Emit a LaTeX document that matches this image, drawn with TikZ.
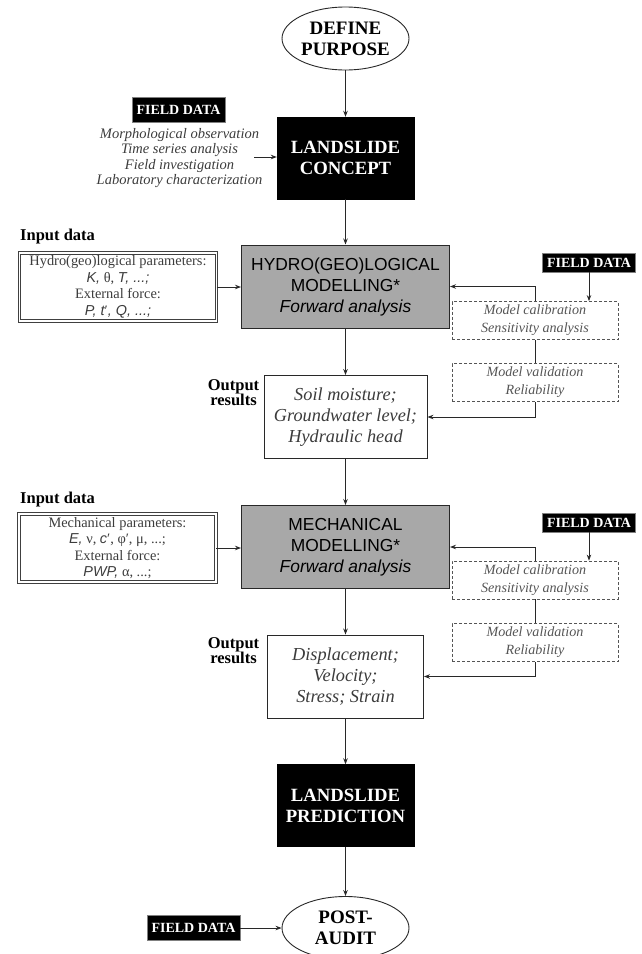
\documentclass[tikz,border=0pt]{standalone}
\usepackage{fontspec}
\setmainfont{Liberation Serif}
\setsansfont{Liberation Sans}
\usetikzlibrary{shapes.geometric,arrows.meta}
\definecolor{boxgray}{RGB}{168,168,168}
\definecolor{linecol}{RGB}{40,40,40}
\definecolor{txtgray}{RGB}{60,60,60}
\definecolor{dashgray}{RGB}{85,85,85}
\newcommand{\sfit}[1]{{\sffamily\itshape #1}}
\begin{document}
\begin{tikzpicture}[x=1pt,y=-1pt,
  arr/.style={draw=linecol, line width=0.9pt, -{Stealth[length=6pt,width=4.5pt]}},
  conn/.style={draw=linecol, line width=0.9pt},
  blackbox/.style={rectangle, fill=black, draw=black, text=white, font=\bfseries\fontsize{18.7}{21}\selectfont, align=center, minimum width=137pt, minimum height=82pt, inner sep=0pt},
  oval/.style={ellipse, draw=linecol, line width=0.9pt, fill=white, font=\bfseries\fontsize{19}{21}\selectfont, align=center, minimum width=127pt, minimum height=63pt, inner sep=0pt},
  fieldbox/.style={rectangle, fill=black, draw=gray, line width=0.5pt, text=white, font=\bfseries\fontsize{14}{16}\selectfont, inner sep=0pt, minimum width=93pt},
  modelbox/.style={rectangle, fill=boxgray, draw=linecol, line width=1pt, font=\sffamily\fontsize{17.4}{21}\selectfont, align=center, minimum width=208pt, minimum height=83pt, inner sep=0pt},
  outbox/.style={rectangle, draw=linecol, line width=0.9pt, fill=white, text=txtgray, font=\itshape\fontsize{18.3}{21}\selectfont, align=center, minimum height=83pt, inner sep=0pt},
  inbox/.style={rectangle, draw=gray!50!black, double=white, double distance=1.6pt, line width=0.8pt, font=\fontsize{14.4}{16.5}\selectfont, text=txtgray, align=center, minimum width=197pt, minimum height=68pt, inner sep=0pt},
  dbox/.style={rectangle, draw=dashgray, dash pattern=on 3pt off 2pt, line width=0.8pt, font=\itshape\fontsize{14.1}{18}\selectfont, text=dashgray, align=center, minimum width=166pt, minimum height=38pt, inner sep=0pt},
  lbl/.style={font=\bfseries\fontsize{16.5}{15}\selectfont, align=center, inner sep=0pt},
  listtxt/.style={font=\itshape\fontsize{14.5}{15.3}\selectfont, text=txtgray, align=center, inner sep=0pt}
]
\useasboundingbox (0,0) rectangle (642,954);

% top part
\node[oval] (purpose) at (345.5,38.5) {DEFINE\\PURPOSE};
\node[blackbox] (concept) at (345.5,158) {LANDSLIDE\\CONCEPT};
\node[fieldbox, minimum height=25pt] (fd0) at (178.5,109.5) {FIELD DATA};
\node[listtxt] (obs) at (179.5,158) {Morphological observation\\Time series analysis\\Field investigation\\Laboratory characterization};
\coordinate (obsend) at (254,157);
\draw[arr] (obsend) -- (obsend -| concept.west);
\draw[arr] (purpose.south) -- (concept.north);

% hydro block
\node[modelbox] (hydro) at (345.5,286.5) {HYDRO(GEO)LOGICAL\\MODELLING*\\\textit{Forward analysis}};
\draw[arr] (concept.south) -- (hydro.north);
\node[lbl, anchor=west] (in1lbl) at (20,237) {Input data};
\node[inbox] (in1) at (118,287) {Hydro(geo)logical parameters:\\\sfit{K,} θ, \sfit{T, ...;}\\External force:\\\sfit{P, t}′\sfit{, Q, ...;}};
\draw[arr] (in1.east) -- (in1.east -| hydro.west);
\node[fieldbox, minimum height=19pt] (fd1) at (589,262.5) {FIELD DATA};
\node[dbox] (cal1) at (535,320.5) {Model calibration\\Sensitivity analysis};
\node[dbox] (val1) at (535,382.5) {Model validation\\Reliability};
\draw[arr] (fd1.south) -- (fd1.south |- cal1.north);
\draw[arr] (cal1.north) |- (hydro.east);
\draw[conn] (cal1.south) -- (val1.north);
\node[outbox, minimum width=163pt] (out1) at (345.5,417) {Soil moisture;\\Groundwater level;\\Hydraulic head};
\draw[arr] (val1.south) |- (out1.east);
\node[lbl] (res1) at (233.5,392.5) {Output\\results};
\draw[arr] (hydro.south) -- (out1.north);

% mechanical block
\node[modelbox] (mech) at (345.5,547) {MECHANICAL\\MODELLING*\\\textit{Forward analysis}};
\draw[arr] (out1.south) -- (mech.north);
\node[lbl, anchor=west] (in2lbl) at (20,500) {Input data};
\node[inbox] (in2) at (117.5,548) {Mechanical parameters:\\\sfit{E,} ν, \sfit{c}′, φ′, μ, ...;\\External force:\\\sfit{PWP,} α, ...;};
\draw[arr] (in2.east) -- (in2.east -| mech.west);
\node[fieldbox, minimum height=19pt] (fd2) at (589,522.5) {FIELD DATA};
\node[dbox] (cal2) at (535,580) {Model calibration\\Sensitivity analysis};
\node[dbox] (val2) at (535,642.5) {Model validation\\Reliability};
\draw[arr] (fd2.south) -- (fd2.south |- cal2.north);
\draw[arr] (cal2.north) |- (mech.east);
\draw[conn] (cal2.south) -- (val2.north);
\node[outbox, minimum width=156pt] (out2) at (345.5,676.5) {Displacement;\\Velocity;\\Stress; Strain};
\draw[arr] (val2.south) |- (out2.east);
\node[lbl] (res2) at (233.5,650.5) {Output\\results};
\draw[arr] (mech.south) -- (out2.north);

% bottom
\node[blackbox] (pred) at (345.5,805.5) {LANDSLIDE\\PREDICTION};
\draw[arr] (out2.south) -- (pred.north);
\node[oval] (post) at (345.5,928) {POST-\\AUDIT};
\draw[arr] (pred.south) -- (post.north);
\node[fieldbox, minimum height=25pt] (fd3) at (193.5,928) {FIELD DATA};
\draw[arr] (fd3.east) -- (post.west);
\end{tikzpicture}
\end{document}
